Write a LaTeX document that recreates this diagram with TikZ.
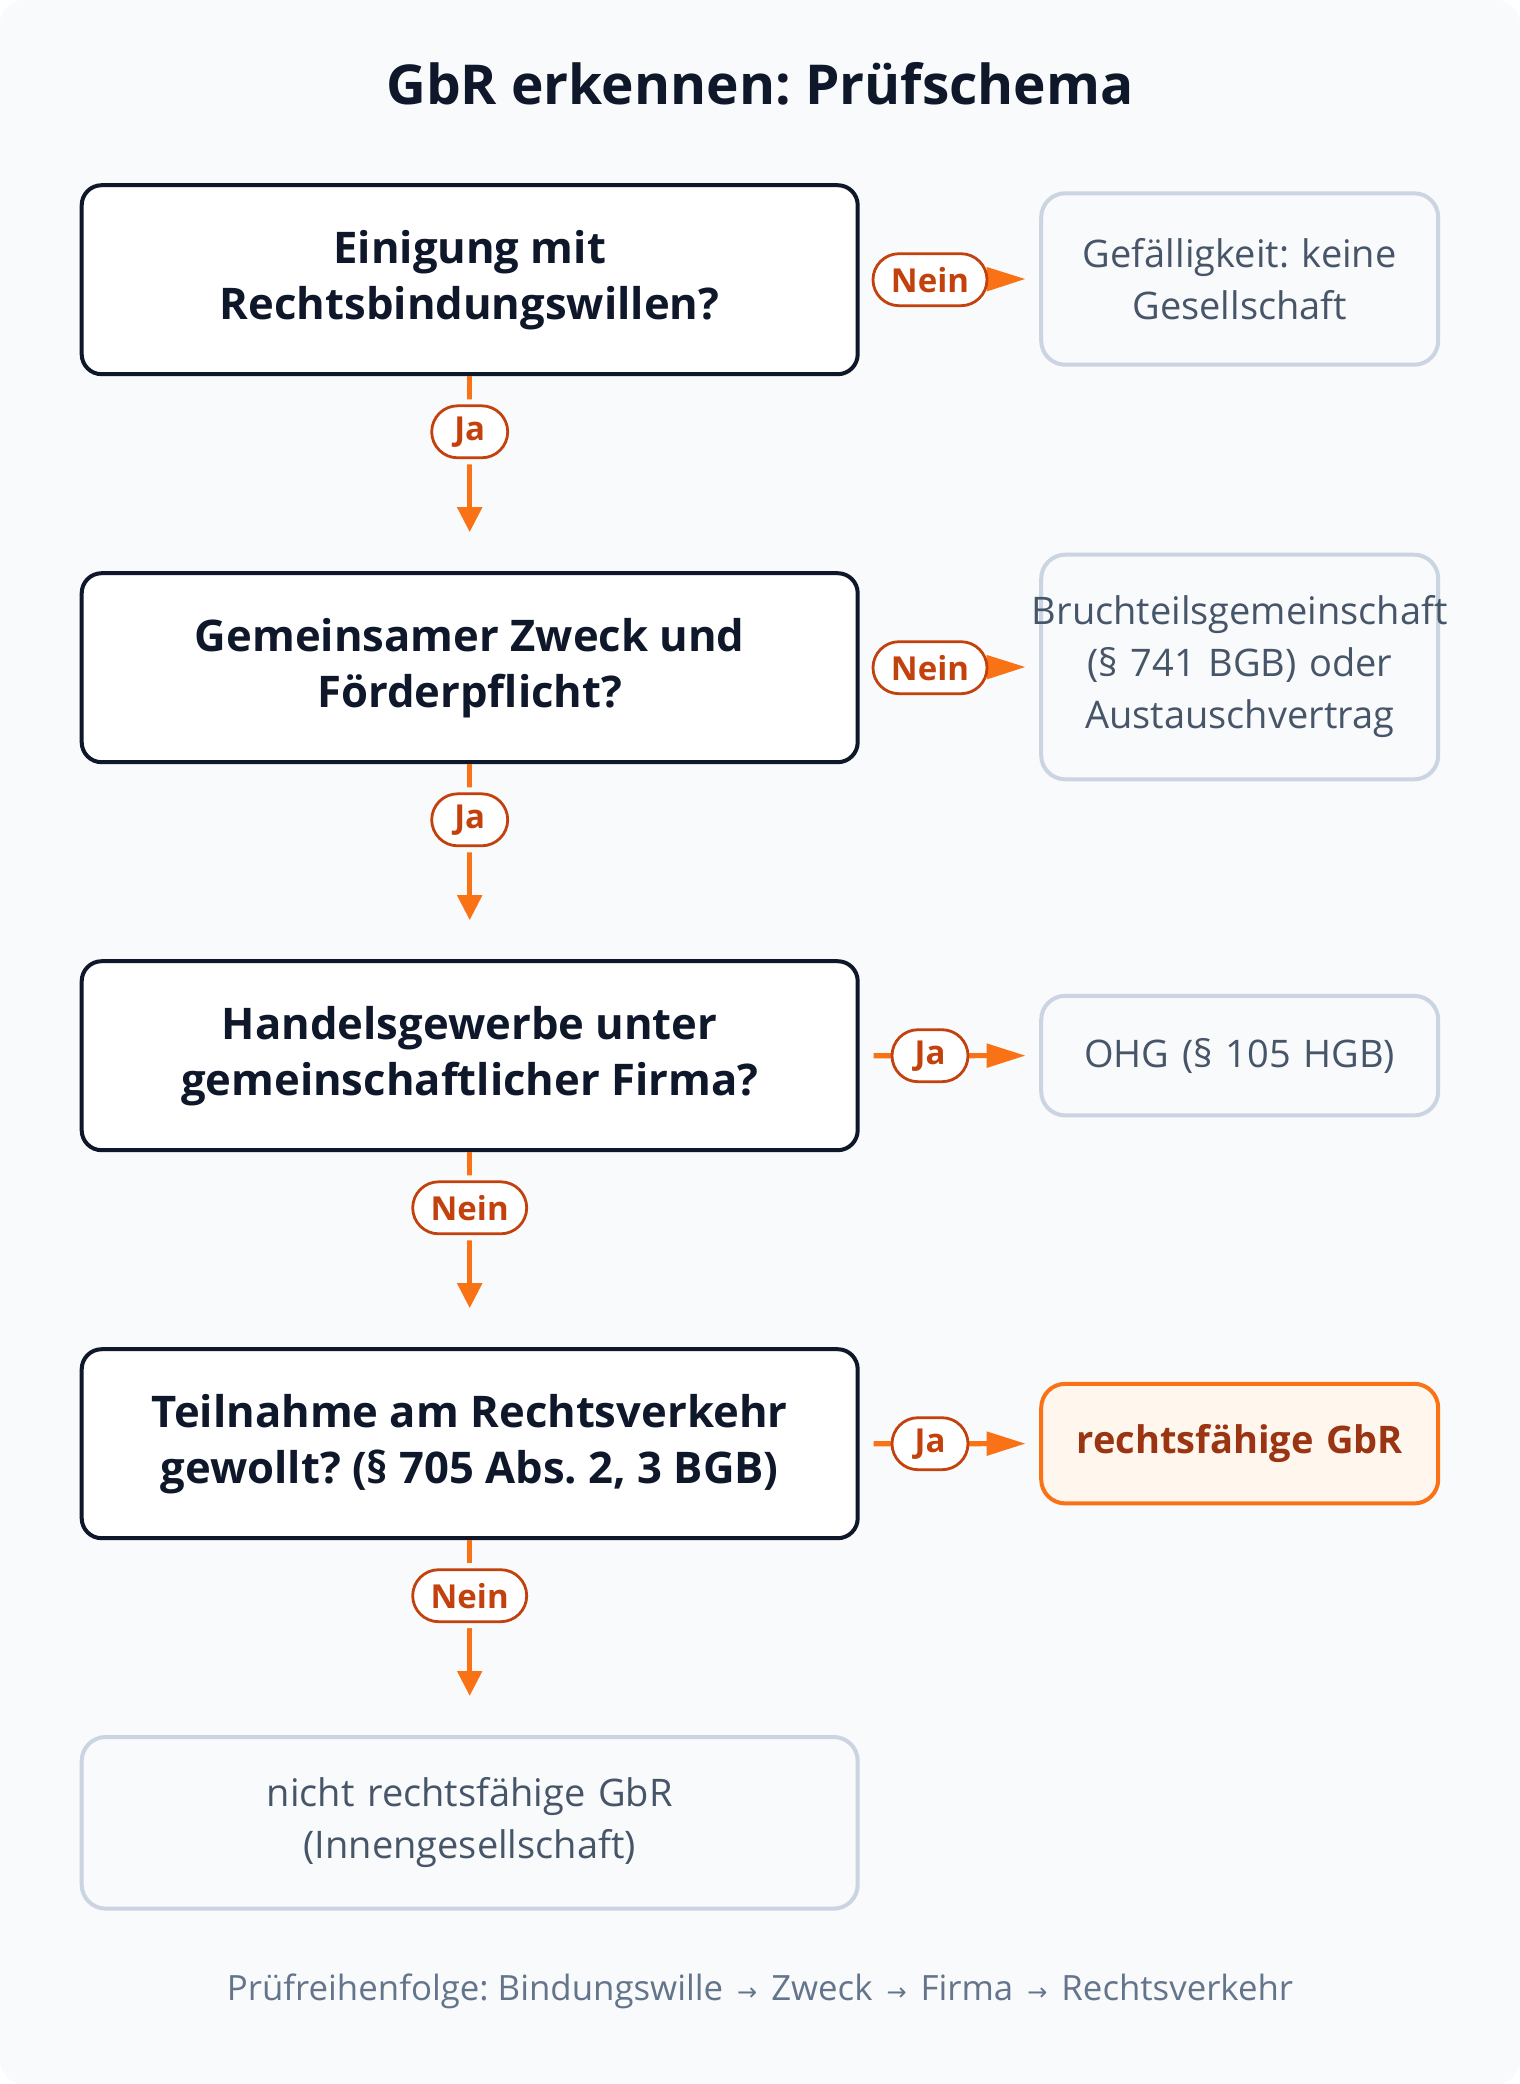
\documentclass[tikz,border=0pt]{standalone}
\usepackage{fontspec}
\setmainfont{Open Sans}
\newfontfamily\arrowfont{DejaVu Sans}
\usetikzlibrary{arrows.meta}
\frenchspacing
\definecolor{bgc}{HTML}{F8FAFC}
\definecolor{darkc}{HTML}{0F172A}
\definecolor{orangec}{HTML}{F97316}
\definecolor{pillc}{HTML}{C2410C}
\definecolor{grayb}{HTML}{CBD5E1}
\definecolor{grayt}{HTML}{475569}
\definecolor{footc}{HTML}{64748B}
\definecolor{resfill}{HTML}{FFF7ED}
\definecolor{restext}{HTML}{9A3412}
\newcommand\footarrow{\hspace{7pt}{\arrowfont\fontsize{12}{12}\selectfont →}\hspace{7pt}}
\begin{document}
\begin{tikzpicture}[x=0.5pt,y=-0.5pt,
  qbox/.style={draw=darkc, line width=2pt, fill=white, rounded corners=10pt, minimum width=388pt, minimum height=94.5pt, align=center, text=darkc, inner sep=0pt, font=\bfseries\fontsize{21.8}{28}\selectfont},
  rbox/.style={draw=grayb, line width=2pt, fill=bgc, rounded corners=12pt, minimum width=198.5pt, text width=180pt, align=center, text=grayt, inner sep=0pt, font=\fontsize{19}{26}\selectfont},
  resbox/.style={rbox, draw=orangec, fill=resfill, text=restext, font=\bfseries\fontsize{19}{26}\selectfont},
  pill/.style={draw=pillc, line width=1.4pt, fill=white, rounded corners=13pt, minimum height=26pt, inner sep=0pt, text=pillc, font=\bfseries\fontsize{16.5}{16.5}\selectfont},
  vpill/.style={pill, preaction={draw=bgc, line width=6.5pt}},
  ja/.style={minimum width=38pt},
  nein/.style={minimum width=57pt},
  harrow/.style={draw=orangec, line width=2.6pt, -{Triangle[length=19.5pt,width=11.5pt]}},
  varrow/.style={draw=orangec, line width=2.6pt, -{Triangle[length=12.5pt,width=12pt]}},
]
\useasboundingbox (0,0) rectangle (1520,2084);
\fill[white] (0,0) rectangle (1520,2084);
\fill[bgc, rounded corners=12pt] (0,0) rectangle (1520,2084);

\node[font=\bfseries\fontsize{27.5}{27.5}\selectfont, text=darkc] (title) at (760,83.7) {GbR erkennen: Prüfschema};

\node[qbox] (q1) at (469.7,279.7) {Einigung mit\\Rechtsbindungswillen?};
\node[qbox] (q2) at (469.7,667.7) {Gemeinsamer Zweck und\\Förderpflicht?};
\node[qbox] (q3) at (469.7,1055.7) {Handelsgewerbe unter\\gemeinschaftlicher Firma?};
\node[qbox] (q4) at (469.7,1443.7) {Teilnahme am Rechtsverkehr\\gewollt? (§ 705 Abs. 2, 3 BGB)};
\node[rbox, minimum width=388pt, text width=360pt, minimum height=85.8pt] (r5) at (469.7,1822.8) {nicht rechtsfähige GbR\\(Innengesellschaft)};

\node[rbox, minimum height=85.7pt] (r1) at (1239.7,279) {Gefälligkeit: keine\\Gesellschaft};
\node[rbox, minimum height=112.3pt] (r2) at (1239.7,667) {\makebox[\linewidth]{Bruchteilsgemeinschaft}\\(§ 741 BGB) oder\\Austauschvertrag};
\node[rbox, minimum height=59.8pt] (r3) at (1239.7,1055.6) {OHG (§ 105 HGB)};
\node[resbox, minimum height=59.8pt] (r4) at (1239.7,1443.6) {rechtsfähige GbR};

\draw[harrow] ([xshift=7pt]q1.east) -- ([xshift=-6.75pt]r1.west);
\node[pill, nein] (h1) at (930,279.7) {Nein};
\draw[harrow] ([xshift=7pt]q2.east) -- ([xshift=-6.75pt]r2.west);
\node[pill, nein] (h2) at (930,667.7) {Nein};
\draw[harrow] ([xshift=7pt]q3.east) -- ([xshift=-6.75pt]r3.west);
\node[pill, ja] (h3) at (930,1055.7) {Ja};
\draw[harrow] ([xshift=7pt]q4.east) -- ([xshift=-6.75pt]r4.west);
\node[pill, ja] (h4) at (930,1443.7) {Ja};

\draw[varrow] (q1.south) -- ([yshift=19.5pt]q2.north);
\node[vpill, ja] (v1) at (469.7,431.8) {Ja};
\draw[varrow] (q2.south) -- ([yshift=19.5pt]q3.north);
\node[vpill, ja] (v2) at (469.7,819.8) {Ja};
\draw[varrow] (q3.south) -- ([yshift=19.5pt]q4.north);
\node[vpill, nein] (v3) at (469.7,1207.8) {Nein};
\draw[varrow] (q4.south) -- ([yshift=19.5pt]r5.north);
\node[vpill, nein] (v4) at (469.7,1595.7) {Nein};

\node[font=\fontsize{17.4}{17.4}\selectfont, text=footc] (foot) at (760,1991.7) {Prüfreihenfolge: Bindungswille\footarrow{}Zweck\footarrow{}Firma\footarrow{}Rechtsverkehr};
\end{tikzpicture}
\end{document}
